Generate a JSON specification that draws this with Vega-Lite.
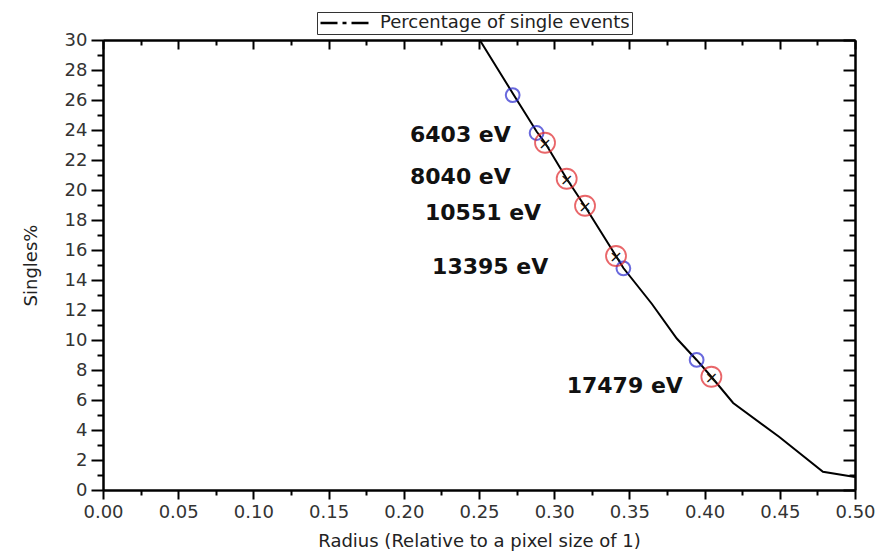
{
  "$schema": "https://vega.github.io/schema/vega-lite/v6.json",
  "width": 752,
  "height": 450,
  "autosize": {"type": "none"},
  "padding": {"left": 103, "top": 40, "right": 28, "bottom": 68},
  "background": "white",
  "config": {
    "view": {"stroke": null},
    "font": "DejaVu Sans",
    "axis": {
      "labelFont": "DejaVu Sans",
      "titleFont": "DejaVu Sans",
      "labelFontSize": 18,
      "titleFontSize": 18,
      "titleFontWeight": "normal",
      "labelColor": "#333",
      "titleColor": "#222",
      "domainColor": "black",
      "domainWidth": 2,
      "tickColor": "black",
      "tickWidth": 2,
      "grid": false
    }
  },
  "datasets": {
    "curve": [
      {"radius": 0.2505, "singles": 30.0},
      {"radius": 0.2724, "singles": 26.45},
      {"radius": 0.2883, "singles": 23.9},
      {"radius": 0.2939, "singles": 23.15},
      {"radius": 0.3083, "singles": 20.75},
      {"radius": 0.3205, "singles": 18.9},
      {"radius": 0.3411, "singles": 15.6},
      {"radius": 0.346, "singles": 14.8},
      {"radius": 0.365, "singles": 12.4},
      {"radius": 0.3815, "singles": 10.1},
      {"radius": 0.3947, "singles": 8.67},
      {"radius": 0.4045, "singles": 7.55},
      {"radius": 0.419, "singles": 5.8},
      {"radius": 0.4495, "singles": 3.55},
      {"radius": 0.4787, "singles": 1.22},
      {"radius": 0.5, "singles": 0.87}
    ],
    "blue": [
      {"radius": 0.2724, "singles": 26.33},
      {"radius": 0.2883, "singles": 23.8},
      {"radius": 0.346, "singles": 14.78},
      {"radius": 0.3947, "singles": 8.67}
    ],
    "red": [
      {"radius": 0.2939, "singles": 23.15},
      {"radius": 0.3083, "singles": 20.75},
      {"radius": 0.3205, "singles": 18.95},
      {"radius": 0.3411, "singles": 15.6},
      {"radius": 0.4045, "singles": 7.55}
    ],
    "notes": [
      {"radius": 0.2041, "singles": 23.69, "note": "6403 eV"},
      {"radius": 0.2041, "singles": 20.89, "note": "8040 eV"},
      {"radius": 0.2141, "singles": 18.47, "note": "10551 eV"},
      {"radius": 0.2188, "singles": 14.89, "note": "13395 eV"},
      {"radius": 0.3083, "singles": 6.93, "note": "17479 eV"}
    ]
  },
  "layer": [
    {
      "data": {"name": "curve"},
      "mark": {"type": "line", "strokeWidth": 2},
      "encoding": {
        "x": {
          "field": "radius", "type": "quantitative",
          "scale": {"domain": [0, 0.5], "nice": false, "zero": false},
          "axis": {
            "orient": "bottom",
            "values": [0, 0.05, 0.1, 0.15, 0.2, 0.25, 0.3, 0.35, 0.4, 0.45, 0.5],
            "format": ".2f",
            "tickSize": 9,
            "labelPadding": 4,
            "labelFlush": false,
            "labelOverlap": false,
            "title": "Radius (Relative to a pixel size of 1)",
            "titlePadding": 11
          }
        },
        "y": {
          "field": "singles", "type": "quantitative",
          "scale": {"domain": [0, 30], "nice": false},
          "axis": {
            "orient": "left",
            "values": [0, 2, 4, 6, 8, 10, 12, 14, 16, 18, 20, 22, 24, 26, 28, 30],
            "format": "d",
            "tickSize": 12,
            "labelPadding": 4,
            "labelFlush": false,
            "labelOverlap": false,
            "title": "Singles%",
            "titlePadding": 24
          }
        },
        "color": {
          "datum": "Percentage of single events",
          "type": "nominal",
          "scale": {"range": ["black"]},
          "legend": {
            "orient": "none",
            "legendX": 214,
            "legendY": -28,
            "title": null,
            "symbolType": "stroke",
            "symbolDash": [17, 5, 4, 5],
            "symbolStrokeWidth": 2.5,
            "symbolStrokeColor": "black",
            "symbolSize": 2500,
            "clipHeight": 18,
            "labelFont": "DejaVu Sans",
            "labelFontSize": 18,
            "labelColor": "#222",
            "labelOffset": 8,
            "labelLimit": 400,
            "strokeColor": "#333",
            "padding": 2
          }
        }
      }
    },
    {
      "data": {"name": "blue"},
      "mark": {"type": "point", "shape": "circle", "filled": false, "size": 190, "stroke": "#2a2ad0", "strokeWidth": 2},
      "encoding": {
        "x": {
          "field": "radius", "type": "quantitative",
          "axis": {
            "orient": "bottom",
            "values": [0.025, 0.075, 0.125, 0.175, 0.225, 0.275, 0.325, 0.375, 0.425, 0.475],
            "labels": false, "tickSize": 5, "title": null
          }
        },
        "y": {
          "field": "singles", "type": "quantitative",
          "axis": {
            "orient": "left",
            "values": [1, 3, 5, 7, 9, 11, 13, 15, 17, 19, 21, 23, 25, 27, 29],
            "labels": false, "tickSize": 6, "title": null
          }
        }
      }
    },
    {
      "data": {"name": "red"},
      "mark": {"type": "point", "shape": "circle", "filled": false, "size": 400, "stroke": "#e0262b", "strokeWidth": 1.8},
      "encoding": {
        "x": {
          "field": "radius", "type": "quantitative",
          "axis": {
            "orient": "top",
            "values": [0, 0.05, 0.1, 0.15, 0.2, 0.25, 0.3, 0.35, 0.4, 0.45, 0.5],
            "labels": false, "tickSize": -9, "title": null
          }
        },
        "y": {
          "field": "singles", "type": "quantitative",
          "axis": {
            "orient": "right",
            "values": [0, 2, 4, 6, 8, 10, 12, 14, 16, 18, 20, 22, 24, 26, 28, 30],
            "labels": false, "tickSize": -12, "title": null
          }
        }
      }
    },
    {
      "data": {"name": "red"},
      "mark": {"type": "text", "text": "×", "align": "center", "baseline": "middle", "font": "DejaVu Sans", "fontSize": 16, "color": "#111", "dy": 1},
      "encoding": {
        "x": {
          "field": "radius", "type": "quantitative",
          "axis": {
            "orient": "top",
            "values": [0.025, 0.075, 0.125, 0.175, 0.225, 0.275, 0.325, 0.375, 0.425, 0.475],
            "labels": false, "tickSize": -5, "title": null
          }
        },
        "y": {
          "field": "singles", "type": "quantitative",
          "axis": {
            "orient": "right",
            "values": [1, 3, 5, 7, 9, 11, 13, 15, 17, 19, 21, 23, 25, 27, 29],
            "labels": false, "tickSize": -6, "title": null
          }
        }
      }
    },
    {
      "data": {"name": "notes"},
      "mark": {"type": "text", "align": "left", "baseline": "middle", "font": "DejaVu Sans", "fontSize": 22, "fontWeight": "bold", "color": "#111"},
      "encoding": {
        "x": {"field": "radius", "type": "quantitative", "axis": null},
        "y": {"field": "singles", "type": "quantitative", "axis": null},
        "text": {"field": "note", "type": "nominal"}
      }
    }
  ],
  "resolve": {"axis": {"x": "independent", "y": "independent"}}
}
